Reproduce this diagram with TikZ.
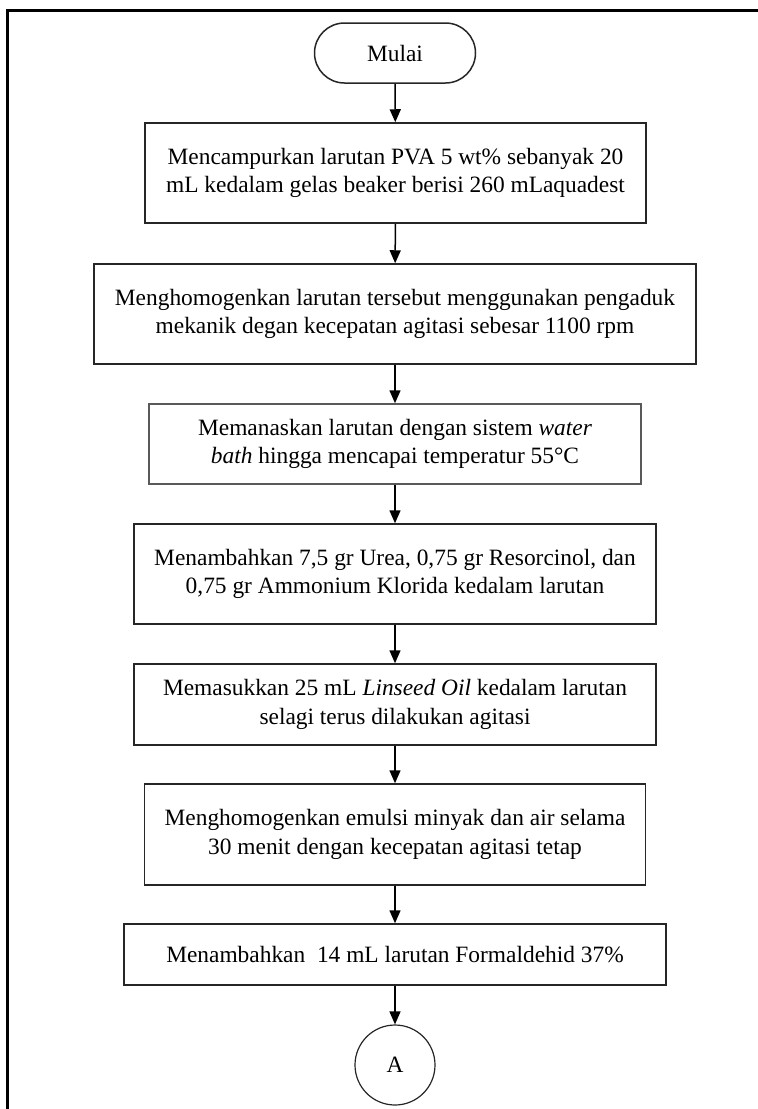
\documentclass[tikz,border=0pt]{standalone}
\usepackage{fontspec}
\setmainfont{Liberation Serif}
\usetikzlibrary{shapes.misc, shapes.geometric, arrows.meta}
\tikzset{
	processnode/.style={
			rectangle,
			draw=black!85,
			line width=1.5bp,
			align=center,
			inner sep=0pt,
			font=\fontsize{23.4bp}{28.5bp}\selectfont
		},
	terminalnode/.style={
			processnode,
			rounded rectangle
		},
	connectornode/.style={
			processnode,
			circle,
			line width=1.2bp
		},
	flowarrow/.style={
			line width=1.5bp,
			-{Triangle[width=11bp,length=13bp]}
		}
}

\begin{document}
\begin{tikzpicture}[x=1bp, y=-1bp]
\useasboundingbox (0,0) rectangle (758,1109);
% frame around the page
\draw[line width=3bp, line join=miter] (7,1112) -- (7,10) -- (761,10);

\node (mulai) at (395,53) [terminalnode, minimum width=161bp, minimum height=60bp] {Mulai};
\node (n1) at (395.5,173) [processnode, minimum width=501bp, minimum height=100bp] {Mencampurkan larutan PVA 5 wt\% sebanyak 20\\ mL kedalam gelas beaker berisi 260 mLaquadest};
\node (n2) at (395,314) [processnode, minimum width=602bp, minimum height=100bp] {Menghomogenkan larutan tersebut menggunakan pengaduk\\ mekanik degan kecepatan agitasi sebesar 1100 rpm};
\node (n3) at (395,444) [processnode, draw=black!65, minimum width=492bp, minimum height=80bp] {Memanaskan larutan dengan sistem \textit{water}\\ \textit{bath} hingga mencapai temperatur 55°C};
\node (n4) at (395,574) [processnode, minimum width=522bp, minimum height=100bp] {Menambahkan 7,5 gr Urea, 0,75 gr Resorcinol, dan\\ 0,75 gr Ammonium Klorida kedalam larutan};
\node (n5) at (395,704.5) [processnode, minimum width=522bp, minimum height=81bp] {Memasukkan 25 mL \textit{Linseed Oil} kedalam larutan\\ selagi terus dilakukan agitasi};
\node (n6) at (395,834.5) [processnode, minimum width=501bp, minimum height=101bp] {Menghomogenkan emulsi minyak dan air selama\\ 30 menit dengan kecepatan agitasi tetap};
\node (n7) at (395,954.5) [processnode, minimum width=542bp, minimum height=61bp] {Menambahkan\ \ 14 mL larutan Formaldehid 37\%};
\node (a) at (395,1065) [connectornode, minimum size=80bp] {A};

\draw[flowarrow] (mulai) -- (n1);
\draw[flowarrow] (n1) -- (n2);
\draw[flowarrow] (n2) -- (n3);
\draw[flowarrow] (n3) -- (n4);
\draw[flowarrow] (n4) -- (n5);
\draw[flowarrow] (n5) -- (n6);
\draw[flowarrow] (n6) -- (n7);
\draw[flowarrow] (n7) -- (a);

\end{tikzpicture}
\end{document}
